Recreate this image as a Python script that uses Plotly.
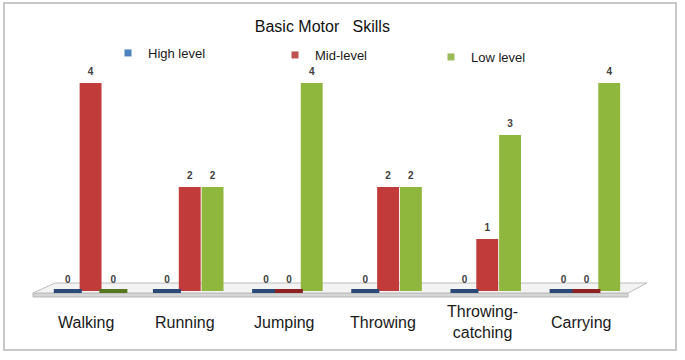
import plotly.graph_objects as go

# ---- data ----
categories = ["Walking", "Running", "Jumping", "Throwing", "Throwing-catching", "Carrying"]
tick_labels = ["Walking", "Running", "Jumping", "Throwing", "Throwing-<br>catching", "Carrying"]
series_names = ["High level", "Mid-level", "Low level"]
high_level = [0, 0, 0, 0, 0, 0]
mid_level = [4, 2, 0, 2, 1, 0]
low_level = [0, 2, 4, 2, 3, 4]
series_values = [high_level, mid_level, low_level]

# ---- style ----
bar_colors = ["#4f81bd", "#c23b3b", "#8fb63d"]
disc_colors = ["#2a4a78", "#8c2222", "#56761f"]
legend_colors = ["#4f81bd", "#c0504d", "#9bbb59"]
FONT = "Liberation Sans, Arial, sans-serif"

W, H = 685, 360
L, R, T, B = 41, 49, 57, 69
pw = W - L - R
ph = H - T - B


def px(x):
    return (x - L) / pw


def py(y):
    return (H - B - y) / ph


fig = go.Figure()

for i, (name, vals) in enumerate(zip(series_names, series_values)):
    fig.add_bar(
        x=categories, y=vals, name=name,
        marker=dict(color=bar_colors[i], line=dict(width=0)),
        offsetgroup=str(i), alignmentgroup="g", showlegend=False,
    )

for i, (name, vals) in enumerate(zip(series_names, series_values)):
    zx = [c for c, v in zip(categories, vals) if v == 0]
    fig.add_scatter(
        x=zx, y=[0] * len(zx), mode="markers",
        marker=dict(symbol="line-ew-open", size=20, color=disc_colors[i],
                    line=dict(width=4, color=disc_colors[i])),
        offsetgroup=str(i), alignmentgroup="g", showlegend=False,
        cliponaxis=False, hoverinfo="skip",
    )
    fig.add_scatter(
        x=categories, y=vals, mode="markers+text",
        text=[str(v) for v in vals], textposition="top center",
        textfont=dict(size=10, color="#404040", family=FONT, weight="bold"),
        marker=dict(size=7, color="rgba(0,0,0,0)"),
        offsetgroup=str(i), alignmentgroup="g", showlegend=False,
        cliponaxis=False, hoverinfo="skip",
    )

legend_ids = ["legend", "legend2", "legend3"]
legend_text_x = [150, 317, 473]
legend_y = [53, 55, 57]
for i, name in enumerate(series_names):
    fig.add_scatter(
        x=[categories[0]], y=[None], mode="markers", name=name,
        marker=dict(symbol="square", size=7, color=legend_colors[i]),
        offsetgroup=str(i), alignmentgroup="g",
        legend=legend_ids[i], showlegend=True,
    )

legend_common = dict(orientation="h", xanchor="left", yanchor="middle",
                     bgcolor="rgba(0,0,0,0)", borderwidth=0, itemwidth=30,
                     font=dict(family=FONT, size=13, color="#1a1a1a"))
layout_legends = {}
for i, lid in enumerate(legend_ids):
    layout_legends[lid] = dict(legend_common, x=px(legend_text_x[i] - 42), y=py(legend_y[i]))

# category labels as annotations (vertically centred like the original)
annotations = []
for c, lab in zip(categories, tick_labels):
    annotations.append(dict(
        x=c, y=0, xref="x", yref="y", text=lab, showarrow=False,
        xanchor="center", yanchor="middle", yshift=-31, xshift=-5,
        font=dict(family=FONT, size=16, color="#1a1a1a"),
    ))

shapes = [
    # outer frame
    dict(type="rect", xref="paper", yref="paper",
         x0=px(4), x1=px(676), y0=py(350), y1=py(3),
         line=dict(color="#c8c8c8", width=2), fillcolor="rgba(0,0,0,0)", layer="below"),
    # floor front edge
    dict(type="path", xref="paper", yref="paper",
         path=f"M{px(33)},{py(293)} L{px(628)},{py(293)} L{px(628)},{py(297)} L{px(33)},{py(297)} Z",
         line=dict(color="#b5b5b5", width=1), fillcolor="#d6d6d6", layer="below"),
    # floor top face
    dict(type="path", xref="paper", yref="paper",
         path=f"M{px(33)},{py(293)} L{px(628)},{py(293)} L{px(647)},{py(283)} L{px(55)},{py(283)} Z",
         line=dict(color="#bdbdbd", width=1), fillcolor="#f3f3f3", layer="below"),
]

fig.update_layout(
    width=W, height=H,
    margin=dict(l=L, r=R, t=T, b=B, autoexpand=False),
    paper_bgcolor="white", plot_bgcolor="rgba(0,0,0,0)",
    barmode="group", bargap=0.31, bargroupgap=0.04,
    scattermode="group",
    title=dict(text="Basic Motor\u00a0\u00a0 Skills", x=px(321), xanchor="center",
               y=1 - 26 / H, yanchor="middle",
               font=dict(family=FONT, size=16, color="#111111")),
    xaxis=dict(showticklabels=False, showgrid=False, zeroline=False, showline=False,
               ticks="", categoryorder="array", categoryarray=categories),
    yaxis=dict(visible=False, range=[0, 4.5], showgrid=False, zeroline=False),
    annotations=annotations,
    shapes=shapes,
    **layout_legends,
)

fig.write_html(
    "out.html",
    config={"displayModeBar": False},
    post_script="document.body.style.margin='0px';document.body.style.overflow='hidden';",
)
